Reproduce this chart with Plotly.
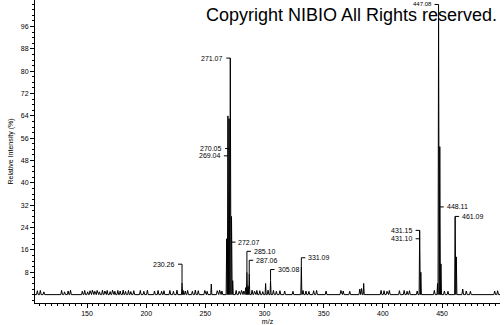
import plotly.graph_objects as go

# ---------------- data ----------------
peak_mz = [230.26, 231.2, 255.0, 268.0, 269.04, 270.05, 271.07, 272.07, 273.1,
           284.0, 285.10, 286.1, 287.06, 300.9, 305.08, 331.09, 383.8,
           431.10, 432.1, 446.2, 447.08, 448.11, 449.1, 461.09, 462.1]
peak_int = [4.2, 1.5, 3.8, 20.0, 64.0, 63.0, 84.7, 28.0, 5.0,
            2.5, 8.0, 3.0, 7.5, 4.0, 5.0, 10.0, 4.0,
            23.0, 8.0, 4.0, 100.0, 53.0, 11.0, 28.0, 13.5]

noise_mz = [108.0, 110.5, 113.5, 128.5, 131.0, 134.0, 136.0, 146.0, 148.0, 150.5,
            152.5, 154.5, 156.5, 158.5, 160.5, 163.0, 165.0, 167.0, 169.5, 171.5,
            173.5, 176.0, 178.0, 180.5, 182.5, 185.0, 187.0, 189.5, 195.0, 198.0,
            201.0, 207.0, 210.0, 213.0, 215.0, 220.0, 223.0, 226.0, 233.0, 235.0,
            239.0, 241.5, 244.0, 249.5, 251.5, 260.0, 262.0, 264.0, 276.0, 278.5,
            280.5, 282.5, 289.5, 291.5, 293.5, 296.0, 298.5, 303.0, 307.5, 310.0,
            313.0, 317.0, 324.0, 332.5, 335.0, 337.5, 341.5, 344.0, 352.0, 364.5,
            366.5, 372.0, 380.5, 382.0, 398.5, 401.0, 403.5, 405.5, 414.0, 418.0,
            420.5, 422.5, 429.0, 443.5, 452.0, 455.0, 467.5, 470.5, 474.0, 494.5,
            497.0]
noise_int = [1.4, 1.5, 1.0, 1.5, 1.0, 1.3, 1.6, 1.2, 1.5, 1.0,
             1.4, 1.6, 1.2, 1.5, 1.0, 1.6, 1.3, 1.5, 1.1, 1.6,
             1.2, 1.5, 1.3, 1.6, 1.2, 1.5, 1.1, 1.4, 1.5, 1.2,
             1.6, 1.3, 1.5, 1.2, 1.4, 1.5, 1.2, 1.6, 1.3, 1.5,
             1.2, 1.6, 1.4, 1.5, 1.2, 1.4, 1.6, 1.3, 1.5, 1.2,
             1.5, 1.3, 1.6, 1.2, 1.5, 1.4, 1.1, 1.6, 1.5, 1.2,
             1.4, 1.3, 1.2, 1.5, 1.3, 1.2, 1.4, 1.5, 1.3, 1.5,
             1.3, 1.2, 2.0, 2.2, 1.5, 1.4, 1.2, 1.5, 1.4, 1.5,
             1.2, 1.4, 1.3, 1.5, 1.3, 1.2, 2.0, 1.3, 1.2, 1.3,
             1.4]

label_text = ["230.26", "271.07", "270.05", "269.04", "272.07", "285.10", "287.06",
              "305.08", "331.09", "431.15", "431.10", "447.08", "448.11", "461.09"]
label_mz = [230.26, 271.07, 270.05, 269.04, 272.07, 285.10, 287.06,
            305.08, 331.09, 431.10, 431.10, 447.08, 448.11, 461.09]
label_y = [10.9, 84.7, 52.3, 49.7, 18.8, 15.5, 12.3,
           9.0, 13.2, 23.0, 20.0, 103.9, 31.4, 28.0]
label_side = ["left", "left", "left", "left", "right", "right", "right",
              "right", "right", "left", "left", "left", "right", "right"]
label_size = [7, 7, 7, 7, 7, 7, 7, 7, 7, 7, 7, 6, 7, 7]

x_ticks = [150, 200, 250, 300, 350, 400, 450]
y_ticks = [8, 16, 24, 32, 40, 48, 56, 64, 72, 80, 88, 96]
X_RANGE = [106, 499]
Y_RANGE = [-3, 105.5]

# ---------------- build profile line ----------------
items = [(m, h, 0.45) for m, h in zip(peak_mz, peak_int)] + \
        [(m, h, 0.7) for m, h in zip(noise_mz, noise_int)]
items.sort(key=lambda t: t[0])
xs, ys = [X_RANGE[0]], [0.0]
for m, h, w in items:
    xs += [m - w, m, m + w]
    ys += [0.0, h, 0.0]
xs.append(X_RANGE[1]); ys.append(0.0)

FONT = "Liberation Sans, Arial, sans-serif"

fig = go.Figure()
fig.add_trace(go.Scatter(x=xs, y=ys, mode="lines",
                         line=dict(color="black", width=1), hoverinfo="skip",
                         showlegend=False))

peak_lookup = dict(zip(peak_mz, peak_int))
DASH = 3.4
for t, m, yl, side, fs in zip(label_text, label_mz, label_y, label_side, label_size):
    top = peak_lookup.get(m, 0)
    if side == "left":
        fig.add_shape(type="line", x0=m - DASH, x1=m, y0=yl, y1=yl,
                      line=dict(color="black", width=1))
        ax, anchor = m - DASH - 0.8, "right"
    else:
        fig.add_shape(type="line", x0=m, x1=m + DASH, y0=yl, y1=yl,
                      line=dict(color="black", width=1))
        ax, anchor = m + DASH + 0.8, "left"
    if yl > top:
        fig.add_shape(type="line", x0=m, x1=m, y0=top, y1=yl,
                      line=dict(color="black", width=1))
    fig.add_annotation(x=ax, y=yl, text=t, showarrow=False, xanchor=anchor,
                       yanchor="middle", font=dict(family=FONT, size=fs, color="black"))

fig.add_annotation(x=0.681, y=0.95, xref="paper", yref="paper",
                   text="Copyright NIBIO All Rights reserved.", showarrow=False,
                   xanchor="center", yanchor="middle",
                   font=dict(family=FONT, size=18, color="black"))

fig.update_layout(
    width=504, height=325,
    margin=dict(l=35, r=4, t=0, b=22),
    paper_bgcolor="white", plot_bgcolor="white",
    font=dict(family=FONT, size=7, color="black"),
    xaxis=dict(range=X_RANGE, tickvals=x_ticks, ticks="outside", ticklen=4,
               tickcolor="black", tickwidth=1, showline=True, linecolor="black",
               linewidth=1, showgrid=False, zeroline=False,
               minor=dict(dtick=5, ticks="outside", ticklen=2, tickcolor="black"),
               tickfont=dict(size=7, family=FONT),
               title=dict(text="m/z", font=dict(size=7, family=FONT), standoff=2)),
    yaxis=dict(range=Y_RANGE, tickvals=y_ticks, ticks="outside", ticklen=4,
               tickcolor="black", tickwidth=1, showline=True, linecolor="black",
               linewidth=1, showgrid=False, zeroline=False,
               minor=dict(dtick=2, ticks="outside", ticklen=2, tickcolor="black"),
               tickfont=dict(size=7, family=FONT),
               title=dict(text="Relative Intensity (%)", font=dict(size=7, family=FONT),
                          standoff=6)),
)

fig.write_html("out.html")
